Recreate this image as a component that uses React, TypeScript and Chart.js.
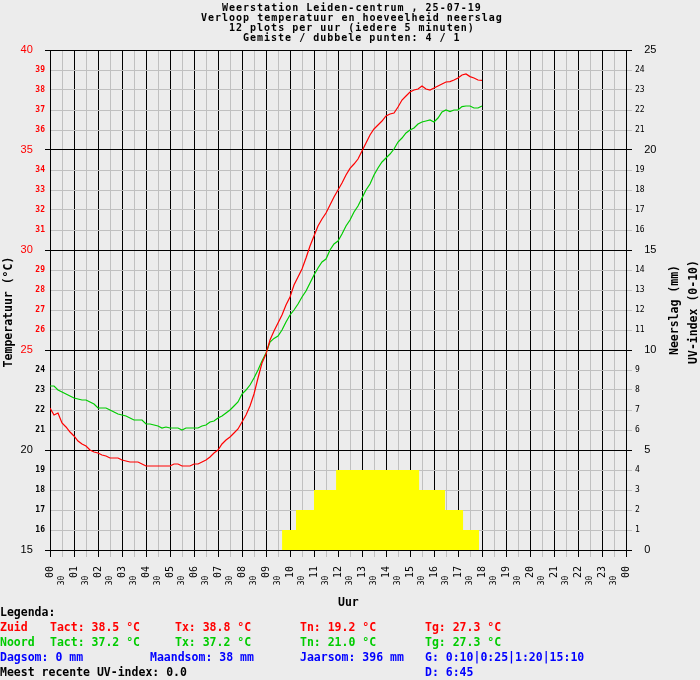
import { useEffect, useRef } from "react";
import { Chart, registerables } from "chart.js";

Chart.register(...registerables);

// x axis: hours of the day, ticks every half hour
const hourLabels = [
  "00", "01", "02", "03", "04", "05", "06", "07", "08", "09", "10", "11",
  "12", "13", "14", "15", "16", "17", "18", "19", "20", "21", "22", "23", "00",
];
const halfHourLabel = "30";

// temperature readings, one every 10 minutes from 00:00 to 18:00
const stepMinutes = 10;
const tempZuid = [
  22.1, 21.75, 21.85, 21.35, 21.15, 20.9, 20.7, 20.45, 20.3, 20.2,
  20.0, 19.9, 19.85, 19.75, 19.7, 19.6, 19.6, 19.6, 19.5, 19.45,
  19.4, 19.4, 19.4, 19.3, 19.2, 19.2, 19.2, 19.2, 19.2, 19.2,
  19.2, 19.3, 19.3, 19.2, 19.2, 19.2, 19.3, 19.3, 19.4, 19.5,
  19.65, 19.85, 20.0, 20.3, 20.5, 20.65, 20.85, 21.05, 21.4, 21.75,
  22.2, 22.8, 23.6, 24.35, 24.8, 25.5, 25.95, 26.35, 26.75, 27.25,
  27.65, 28.25, 28.65, 29.05, 29.6, 30.2, 30.7, 31.2, 31.55, 31.85,
  32.25, 32.65, 33.0, 33.35, 33.75, 34.08, 34.3, 34.55, 34.95, 35.35,
  35.75, 36.05, 36.25, 36.45, 36.7, 36.8, 36.85, 37.15, 37.5, 37.7,
  37.9, 38.0, 38.05, 38.2, 38.05, 38.0, 38.1, 38.2, 38.3, 38.4,
  38.42, 38.5, 38.6, 38.75, 38.8, 38.67, 38.6, 38.5, 38.48,
];
const tempNoord = [
  23.2, 23.2, 23.0, 22.9, 22.8, 22.7, 22.6, 22.55, 22.5, 22.5,
  22.4, 22.3, 22.1, 22.1, 22.1, 22.0, 21.9, 21.8, 21.75, 21.7,
  21.6, 21.5, 21.5, 21.5, 21.3, 21.3, 21.25, 21.2, 21.1, 21.15,
  21.1, 21.1, 21.1, 21.0, 21.1, 21.1, 21.1, 21.1, 21.2, 21.25,
  21.4, 21.45, 21.6, 21.7, 21.85, 22.0, 22.2, 22.4, 22.8, 23.0,
  23.25, 23.6, 24.0, 24.45, 24.85, 25.4, 25.58, 25.7, 26.0, 26.4,
  26.75, 27.0, 27.3, 27.65, 27.95, 28.35, 28.75, 29.1, 29.4, 29.55,
  30.0, 30.3, 30.45, 30.8, 31.2, 31.5, 31.9, 32.2, 32.6, 33.0,
  33.3, 33.75, 34.1, 34.4, 34.6, 34.8, 35.05, 35.4, 35.6, 35.85,
  36.0, 36.1, 36.3, 36.4, 36.45, 36.5, 36.4, 36.6, 36.9, 37.0,
  36.92, 37.0, 37.0, 37.17, 37.2, 37.2, 37.1, 37.1, 37.2,
];

// UV index steps (hour where the level starts, level)
const uvHours = [9.67, 10.25, 11.0, 11.92, 15.38, 16.46, 17.21, 17.88];
const uvIndex = [1, 2, 3, 4, 3, 2, 1, 0];

const titleLines = [
  "Weerstation Leiden-centrum , 25-07-19",
  "Verloop temperatuur en hoeveelheid neerslag",
  "12 plots per uur (iedere 5 minuten)",
  "Gemiste / dubbele punten: 4 / 1",
];

const BLACK = "#000000";
const GRAY = "#c0c0c0";
const RED = "#ff0000";
const GREEN = "#00cc00";
const BLUE = "#0000ff";
const YELLOW = "#ffff00";
const BG = "#ececec";

const MONO = "'DejaVu Sans Mono', monospace";
const TEXT_FONT = `bold 11.5px ${MONO}`;
const TITLE_FONT = `bold 10px ${MONO}`;
const bigTick = { family: "'Liberation Sans', sans-serif", size: 11, weight: "normal" as const };

const legendRows = [
  { y: 616, items: [{ x: 0, text: "Legenda:", color: BLACK }] },
  {
    y: 631,
    items: [
      { x: 0, text: "Zuid", color: RED },
      { x: 50, text: "Tact: 38.5 °C", color: RED },
      { x: 175, text: "Tx: 38.8 °C", color: RED },
      { x: 300, text: "Tn: 19.2 °C", color: RED },
      { x: 425, text: "Tg: 27.3 °C", color: RED },
    ],
  },
  {
    y: 646,
    items: [
      { x: 0, text: "Noord", color: GREEN },
      { x: 50, text: "Tact: 37.2 °C", color: GREEN },
      { x: 175, text: "Tx: 37.2 °C", color: GREEN },
      { x: 300, text: "Tn: 21.0 °C", color: GREEN },
      { x: 425, text: "Tg: 27.3 °C", color: GREEN },
    ],
  },
  {
    y: 661,
    items: [
      { x: 0, text: "Dagsom: 0 mm", color: BLUE },
      { x: 150, text: "Maandsom: 38 mm", color: BLUE },
      { x: 300, text: "Jaarsom: 396 mm", color: BLUE },
      { x: 425, text: "G: 0:10|0:25|1:20|15:10", color: BLUE },
    ],
  },
  {
    y: 676,
    items: [
      { x: 0, text: "Meest recente UV-index: 0.0", color: BLACK },
      { x: 425, text: "D: 6:45", color: BLUE },
    ],
  },
];

const toPoints = (vals: number[]) =>
  vals.map((y, i) => ({ x: (i * stepMinutes) / 60, y }));

const isMajor = (c: any) => (c.tick ? c.tick.value % 5 === 0 : false);
const isHour = (c: any) => (c.tick ? Number.isInteger(c.tick.value) : false);

const drawUp = (ctx: CanvasRenderingContext2D, text: string, x: number, y: number) => {
  ctx.save();
  ctx.translate(x, y);
  ctx.rotate(-Math.PI / 2);
  ctx.textAlign = "center";
  ctx.textBaseline = "alphabetic";
  ctx.fillText(text, 0, 0);
  ctx.restore();
};

const textPlugin = {
  id: "weerText",
  afterDraw(chart: Chart) {
    const ctx = chart.ctx as any;
    ctx.save();
    // title: narrow-height bitmap look, wide spacing
    ctx.font = TITLE_FONT;
    ctx.letterSpacing = "1px";
    ctx.fillStyle = BLACK;
    ctx.textAlign = "left";
    ctx.textBaseline = "alphabetic";
    titleLines.forEach((t, i) => {
      const w = ctx.measureText(t).width - 1;
      ctx.fillText(t, Math.round(351 - w / 2), 11 + i * 10);
    });
    ctx.letterSpacing = "0px";

    ctx.font = TEXT_FONT;
    ctx.fillText("Uur", 338, 606);

    drawUp(ctx, "Temperatuur (°C)", 12, 312);
    drawUp(ctx, "Neerslag (mm)", 678, 310);
    drawUp(ctx, "UV-index (0-10)", 697, 312);

    ctx.textAlign = "left";
    legendRows.forEach((row) => {
      row.items.forEach((it) => {
        ctx.fillStyle = it.color;
        ctx.fillText(it.text, it.x, row.y);
      });
    });
    ctx.restore();
  },
};

export default function App() {
  const chartRef = useRef<HTMLCanvasElement | null>(null);
  const chartInstance = useRef<Chart | null>(null);

  useEffect(() => {
    if (!chartRef.current) return;
    if (chartInstance.current) chartInstance.current.destroy();
    const ctx = chartRef.current.getContext("2d");
    if (!ctx) return;

    chartInstance.current = new Chart(ctx, {
      type: "line",
      data: {
        datasets: [
          {
            label: "Zuid",
            data: toPoints(tempZuid),
            borderColor: RED,
            borderWidth: 1.2,
            pointRadius: 0,
            tension: 0,
            yAxisID: "y",
          },
          {
            label: "Noord",
            data: toPoints(tempNoord),
            borderColor: GREEN,
            borderWidth: 1.2,
            pointRadius: 0,
            tension: 0,
            yAxisID: "y",
          },
          {
            label: "UV-index",
            data: uvHours.map((h, i) => ({ x: h, y: uvIndex[i] })),
            stepped: true,
            fill: "origin",
            backgroundColor: YELLOW,
            borderColor: "rgba(0,0,0,0)",
            borderWidth: 0,
            pointRadius: 0,
            yAxisID: "y2",
          },
        ],
      },
      options: {
        responsive: false,
        animation: false,
        layout: { padding: { top: 50, left: 0, right: 0, bottom: 0 } },
        plugins: {
          legend: { display: false },
          tooltip: { enabled: false },
          title: { display: false },
        },
        scales: {
          x: {
            type: "linear",
            min: 0,
            max: 24,
            afterFit: (s: any) => {
              s.height = 130;
            },
            ticks: {
              stepSize: 0.5,
              maxTicksLimit: 100,
              autoSkip: false,
              minRotation: 90,
              maxRotation: 90,
              padding: 9,
              color: BLACK,
              callback: (v: any) =>
                Number.isInteger(v) ? hourLabels[v] : halfHourLabel + "  ",
              font: (c: any) =>
                isHour(c) ? { family: MONO, size: 10 } : { family: MONO, size: 8 },
            },
            grid: {
              color: (c: any) => (isHour(c) ? BLACK : GRAY),
              tickLength: 7,
              lineWidth: 1,
            },
            border: { display: true, color: BLACK },
          },
          y: {
            type: "linear",
            position: "left",
            min: 15,
            max: 40,
            afterFit: (s: any) => {
              s.width = 50;
            },
            ticks: {
              stepSize: 1,
              autoSkip: false,
              padding: 0,
              callback: (v: any) => (v % 5 === 0 ? `${v}    ` : `${v}`),
              font: (c: any) =>
                isMajor(c) ? bigTick : { family: MONO, size: 8, weight: "bold" },
              color: (c: any) => (c.tick && c.tick.value >= 25 ? RED : BLACK),
            },
            grid: {
              color: (c: any) => (isMajor(c) ? BLACK : GRAY),
              tickColor: (c: any) => (isMajor(c) ? BLACK : "rgba(0,0,0,0)"),
              tickLength: 5,
              lineWidth: 1,
            },
            border: { display: true, color: BLACK },
          },
          y2: {
            type: "linear",
            position: "right",
            min: 0,
            max: 25,
            afterFit: (s: any) => {
              s.width = 74;
            },
            ticks: {
              stepSize: 1,
              autoSkip: false,
              padding: 3,
              callback: (v: any) => (v % 5 === 0 ? `   ${v}` : `${v}`),
              font: (c: any) => (isMajor(c) ? bigTick : { family: MONO, size: 8 }),
              color: BLACK,
            },
            grid: {
              drawOnChartArea: false,
              color: (c: any) => (isMajor(c) ? BLACK : GRAY),
              tickLength: 6,
              lineWidth: 1,
            },
            border: { display: true, color: BLACK },
          },
        },
      },
      plugins: [textPlugin],
    });

    return () => {
      if (chartInstance.current) {
        chartInstance.current.destroy();
        chartInstance.current = null;
      }
    };
  }, []);

  return (
    <div
      style={{
        position: "absolute",
        left: 0,
        top: 0,
        width: 700,
        height: 680,
        background: BG,
      }}
    >
      <canvas ref={chartRef} width={700} height={680} />
    </div>
  );
}
